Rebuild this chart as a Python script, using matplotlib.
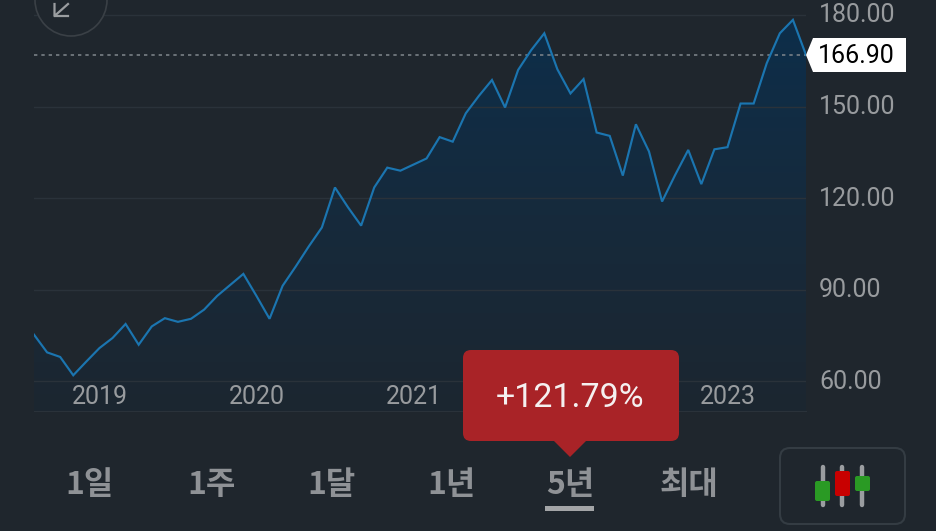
import numpy as np
import matplotlib
matplotlib.use("Agg")
import matplotlib.pyplot as plt
from matplotlib.colors import LinearSegmentedColormap
from matplotlib.patches import Circle, FancyBboxPatch, Polygon, Rectangle, PathPatch
from matplotlib.path import Path
from matplotlib.transforms import ScaledTranslation

# monthly prices
prices = [75.3, 69.5, 68.0, 62.0, 66.5, 70.9, 74.2, 78.8, 72.0, 78.0,
          80.7, 79.5, 80.5, 83.5, 88.0, 91.6, 95.2, 88.0, 80.5, 91.3,
          97.6, 104.2, 110.4, 123.5, 117.0, 111.0, 123.5, 130.0, 129.0, 131.0,
          133.0, 140.0, 138.5, 147.8, 153.5, 158.7, 149.7, 162.0, 168.5, 174.0,
          162.2, 154.3, 159.0, 141.5, 140.4, 127.4, 144.2, 135.3, 118.9, 127.6,
          135.8, 124.6, 136.0, 136.7, 151.0, 151.0, 164.2, 174.0, 178.4, 166.9]
last_price = 166.90
change_text = "+121.79%"
y_ticks = [60, 90, 120, 150, 180]
year_positions = [5, 17, 29, 53]
year_labels = ["2019", "2020", "2021", "2023"]
range_labels = ["1일", "1주", "1달", "1년", "5년", "최대"]
range_centers = [90, 211, 331, 451, 570, 689]

BG = "#1f262d"
GRID = "#2a323a"
TEXT = "#989b9e"
W, H = 936, 531

plt.rcParams["font.family"] = ["Roboto", "Noto Sans CJK KR", "DejaVu Sans"]

fig = plt.figure(figsize=(W / 100, H / 100), dpi=100, facecolor=BG)

# price chart, placed by pixels: x 34-806, y 0-411
ax = fig.add_axes([34 / W, 1 - 411 / H, 772 / W, 411 / H], facecolor=BG)
x = np.arange(len(prices))
y_min, y_max = 50.3, 184.9

# gradient under the line
cmap = LinearSegmentedColormap.from_list("fill", ["#0d2e4a", "#162a3c", "#1c2630"])
grad = ax.imshow(np.linspace(0, 1, 256).reshape(-1, 1), cmap=cmap, aspect="auto",
                 extent=[0, len(prices) - 1, y_min, 178.4], zorder=1)
verts = [(0, y_min)] + list(zip(x, prices)) + [(len(prices) - 1, y_min), (0, y_min)]
clip = PathPatch(Path(verts), transform=ax.transData, facecolor="none", edgecolor="none")
ax.add_patch(clip)
grad.set_clip_path(clip)

for t in y_ticks:
    ax.axhline(t, color=GRID, lw=1, zorder=2)
ax.axhline(last_price, color="#80878d", lw=1.1, ls=(0, (2.2, 2.6)), zorder=2)
ax.plot(x, prices, color="#1b75b0", lw=1.55, zorder=3, solid_joinstyle="miter")

ax.set_xlim(0, len(prices) - 1)
ax.set_ylim(y_min, y_max)
for side in ["top", "left", "right"]:
    ax.spines[side].set_visible(False)
ax.spines["bottom"].set_color(GRID)
ax.yaxis.tick_right()
ax.set_yticks(y_ticks)
ax.set_yticklabels(["%.2f" % t for t in y_ticks])
ax.tick_params(axis="y", length=0, pad=9.5, labelsize=18, labelcolor=TEXT)
ax.set_xticks(year_positions)
ax.set_xticklabels(year_labels)
ax.tick_params(axis="x", length=0, pad=-18.5, labelsize=18, labelcolor=TEXT)
for label in ax.get_yticklabels():
    label.set_transform(label.get_transform() + ScaledTranslation(0, 2 / 100, fig.dpi_scale_trans))

# everything around the chart, in pixel coordinates
ui = fig.add_axes([0, 0, 1, 1], facecolor="none")
ui.set_xlim(0, W)
ui.set_ylim(H, 0)
ui.axis("off")

# zoom button, cut by the top edge
ui.add_patch(Circle((71, 0), 36, facecolor=BG, edgecolor="#3a4046", lw=1.2))
ui.plot([68, 54.5, 54.5], [4, 16, 4], color="#9a9da0", lw=1.6)
ui.plot([54.5, 68], [16, 16], color="#9a9da0", lw=1.6)

# last price tag
ui.add_patch(Polygon([(806, 55), (813, 38), (906, 38), (906, 72), (813, 72)], facecolor="white", edgecolor="none"))
ui.text(856, 56, "%.2f" % last_price, color="black", fontsize=18, ha="center", va="center")

# red change bubble
ui.add_patch(FancyBboxPatch((471, 358), 200, 75, boxstyle="round,pad=8,rounding_size=8",
                            facecolor="#a92327", edgecolor="none"))
ui.add_patch(Polygon([(553, 440), (587, 440), (570, 457)], facecolor="#a92327", edgecolor="none"))
ui.text(570, 398, change_text, color="#f5f0f0", fontsize=24.5, ha="center", va="center")

# range buttons
for label, cx in zip(range_labels, range_centers):
    ui.text(cx, 485, label, color="#8f9296", fontsize=23, fontweight="bold",
            ha="center", va="center", family=["Noto Sans CJK KR", "DejaVu Sans"])
ui.add_patch(Rectangle((545, 506), 49, 5, facecolor="#a3a5a7", edgecolor="none"))

# candle icon button
ui.add_patch(FancyBboxPatch((790, 458), 105, 56, boxstyle="round,pad=10,rounding_size=10",
                            facecolor="none", edgecolor="#343c43", lw=1.5))
for wx in [822.7, 842.3, 862]:
    ui.plot([wx, wx], [467, 505], color="#9a9da0", lw=3.2, solid_capstyle="round")
for bx, by, bh, col in [(815, 481, 20, "#2a9a24"), (835, 471, 25, "#c80000"), (855, 476, 15, "#2a9a24")]:
    ui.add_patch(FancyBboxPatch((bx + 2, by + 2), 11, bh - 4, boxstyle="round,pad=2,rounding_size=2",
                                facecolor=col, edgecolor="none", zorder=5))

fig.savefig("out.png", dpi=100, facecolor=BG)
